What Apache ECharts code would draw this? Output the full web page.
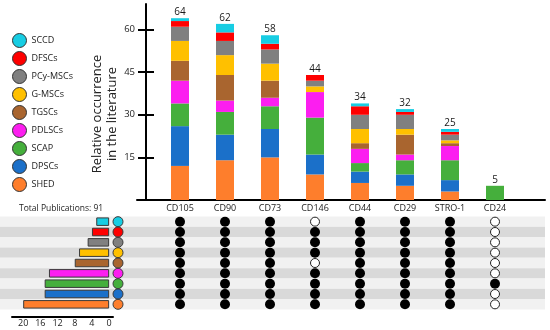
<!DOCTYPE html>
<html><head><meta charset="utf-8">
<script src="https://cdn.jsdelivr.net/npm/echarts@6/dist/echarts.min.js"></script>
<style>html,body{margin:0;padding:0;background:#fff}#c{width:550px;height:330px}</style>
</head><body><div id="c"></div>
<script>
const categories = ['CD105','CD90','CD73','CD146','CD44','CD29','STRO-1','CD24'];
// stack order bottom -> top
const shed    = [12,14,15, 9, 6, 5, 3, 0];
const dpscs   = [14, 9,10, 7, 4, 4, 4, 0];
const scap    = [ 8, 8, 8,13, 3, 5, 7, 5];
const pdlscs  = [ 8, 4, 3, 9, 5, 2, 5, 0];
const tgscs   = [ 7, 9, 6, 0, 2, 7, 1, 0];
const gmscs   = [ 7, 7, 6, 2, 5, 2, 1, 0];
const pcymscs = [ 5, 5, 5, 2, 5, 5, 2, 0];
const dfscs   = [ 2, 3, 2, 2, 3, 1, 1, 0];
const sccd    = [ 1, 3, 3, 0, 1, 1, 1, 0];
const cellTypes = ['SCCD','DFSCs','PCy-MSCs','G-MSCs','TGSCs','PDLSCs','SCAP','DPSCs','SHED'];
const publications = [3,4,5,7,8,14,15,15,20];
const yTicks = [15,30,45,60];
const pubTicks = [0,4,8,12,16,20];

const colors = {SCCD:'#17cde3',DFSCs:'#fe0000','PCy-MSCs':'#808080','G-MSCs':'#ffc000',TGSCs:'#a9652f',PDLSCs:'#fc1ef0',SCAP:'#45af3c',DPSCs:'#1b70c9',SHED:'#fe7e2c'};
const stackSeries = [['SHED',shed],['DPSCs',dpscs],['SCAP',scap],['PDLSCs',pdlscs],['TGSCs',tgscs],['G-MSCs',gmscs],['PCy-MSCs',pcymscs],['DFSCs',dfscs],['SCCD',sccd]];
const byName = Object.fromEntries(stackSeries);
const totals = categories.map((c,i)=>stackSeries.reduce((s,[,a])=>s+a[i],0));
const totalPubs = publications.reduce((a,b)=>a+b,0);

const FONT = 'Open Sans';
const chart = echarts.init(document.getElementById('c'));

const filled = [], open = [];
categories.forEach((c,i)=>cellTypes.forEach(t=>{ (byName[t][i]>0?filled:open).push([c,t]); }));

const series = stackSeries.map(([name,arr])=>({
  name, type:'bar', stack:'s', xAxisIndex:0, yAxisIndex:0, barWidth:18,
  itemStyle:{color:colors[name]}, data:arr
}));
series.push({type:'scatter', xAxisIndex:0, yAxisIndex:0, symbolSize:0, itemStyle:{color:'#000', opacity:1},
  label:{show:true, position:'top', distance:1, color:'#1a1a1a', fontSize:10, fontFamily:FONT}, data:totals, silent:true});
series.push({type:'bar', xAxisIndex:4, yAxisIndex:5, barWidth:8.5,
  data: publications.map((v,j)=>({value:v, itemStyle:{color:colors[cellTypes[j]]}})),
  itemStyle:{borderColor:'#3a3a3a', borderWidth:1}});
series.push({type:'scatter', xAxisIndex:6, yAxisIndex:6, symbolSize:10,
  data: cellTypes.map(t=>({value:[0,t], itemStyle:{color:colors[t]}})),
  itemStyle:{borderColor:'#3a3a3a', borderWidth:1, opacity:1}});
series.push({type:'scatter', xAxisIndex:3, yAxisIndex:4, symbolSize:10, itemStyle:{color:'#000', opacity:1}, data:filled});
series.push({type:'scatter', xAxisIndex:3, yAxisIndex:4, symbolSize:9, itemStyle:{color:'#fff', borderColor:'#222', borderWidth:1, opacity:1}, data:open});

chart.setOption({
  animation:false,
  textStyle:{fontFamily:FONT},
  title:{text:'Total Publications: '+totalPubs, left:19, top:204, padding:0, textStyle:{fontSize:8.5, fontWeight:'normal', color:'#222', fontFamily:FONT}},
  legend:{orient:'vertical', left:12, top:33, itemWidth:14, itemHeight:14, itemGap:3,
    icon:'circle', data:[...cellTypes], itemStyle:{borderColor:'#333', borderWidth:1},
    textStyle:{fontSize:9, color:'#222', fontFamily:FONT}, padding:0},
  graphic:[{type:'text', x:105, y:114, rotation:Math.PI/2,
    style:{text:'Relative occurrence\nin the literature', fontSize:13, lineHeight:15, fill:'#222', fontFamily:FONT, align:'center', verticalAlign:'middle'}}],
  grid:[
    {left:157.5, width:360, top:4, height:196},          // 0 main
    {left:137, width:408, top:4, height:196},            // 1 helper for x-axis line
    {left:0, width:545, top:216.5, height:93},           // 2 stripes
    {left:157.5, width:360, top:216.5, height:93},       // 3 dot matrix
    {left:12, width:101, top:216.5, height:93},          // 4 pubs bars
    {left:111, width:14, top:216.5, height:93}           // 5 circles
  ],
  xAxis:[
    {type:'category', gridIndex:0, data:categories, axisLine:{show:false}, axisTick:{show:false}, axisLabel:{show:false}},
    {type:'value', gridIndex:1, min:0, max:1, axisLine:{show:true, lineStyle:{color:'#000', width:2}}, axisTick:{show:false}, axisLabel:{show:false}, splitLine:{show:false}},
    {type:'value', gridIndex:2, min:0, max:1, show:false},
    {type:'category', gridIndex:3, data:categories, position:'top', axisLine:{show:false}, axisTick:{show:false},
      axisLabel:{color:'#222', fontSize:9, margin:4, fontFamily:FONT, interval:0}},
    {type:'value', gridIndex:4, inverse:true, min:-0.9, max:22.6, offset:7, splitLine:{show:false},
      axisLine:{show:true, lineStyle:{color:'#000', width:2}},
      axisTick:{inside:true, length:5, lineStyle:{color:'#000', width:1.5}, customValues:pubTicks},
      axisLabel:{color:'#222', fontSize:9, margin:2, customValues:pubTicks, fontFamily:FONT}},
    {type:'value', gridIndex:4, inverse:true, min:-0.9, max:22.6, offset:7, show:false},
    {type:'category', gridIndex:5, data:['c'], show:false}
  ],
  yAxis:[
    {type:'value', gridIndex:0, position:'left', min:0, max:69, offset:11.5, splitLine:{show:false},
      axisLine:{show:true, lineStyle:{color:'#000', width:2}},
      axisTick:{show:true, length:8, lineStyle:{color:'#000', width:2}, customValues:yTicks},
      axisLabel:{color:'#222', fontSize:9.5, margin:11, customValues:yTicks, fontFamily:FONT}},
    {type:'value', gridIndex:0, position:'left', min:0, max:69, offset:11.5, splitLine:{show:false},
      axisLine:{show:false}, axisTick:{show:true, inside:true, length:8, lineStyle:{color:'#000', width:2}, customValues:yTicks},
      axisLabel:{show:false}},
    {type:'value', gridIndex:1, min:0, max:1, show:false},
    {type:'category', gridIndex:2, data:cellTypes, inverse:true, axisLine:{show:false}, axisTick:{show:false},
      axisLabel:{show:false, interval:0},
      splitArea:{show:true, interval:0, areaStyle:{color:['#f1f1f1','#d9d9d9']}}},
    {type:'category', gridIndex:3, data:cellTypes, inverse:true, show:false},
    {type:'category', gridIndex:4, data:cellTypes, inverse:true, show:false},
    {type:'category', gridIndex:5, data:cellTypes, inverse:true, show:false}
  ],
  series
});
</script></body></html>
